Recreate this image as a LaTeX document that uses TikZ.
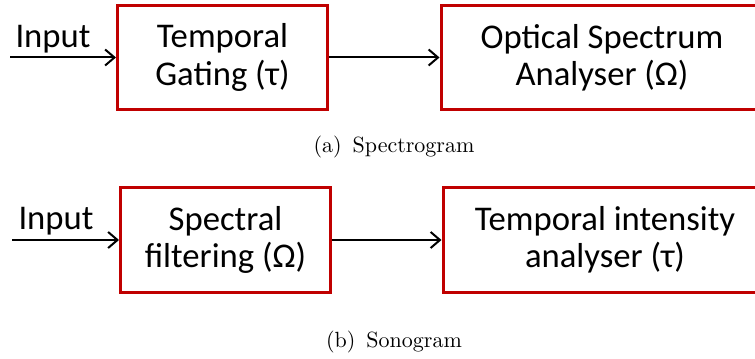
\documentclass[tikz,border=0pt]{standalone}
\usepackage{fontspec}
\newfontfamily\carlito{Carlito}
\newfontfamily\lmten{lmroman10-regular}[Extension=.otf]
\usetikzlibrary{arrows.meta}
\definecolor{boxred}{RGB}{192,0,0}

\tikzset{
  block/.style={draw=boxred, line width=2.25pt, minimum height=78.5pt, align=center,
    font=\carlito\fontsize{26}{28}\selectfont},
  inlabel/.style={anchor=base, font=\carlito\fontsize{26}{28}\selectfont},
  flow/.style={line width=1.5pt, -{Straight Barb[length=7pt,width=12pt,line width=1.5pt]}},
  subcap/.style={anchor=base, font=\lmten\fontsize{16.5}{19}\selectfont}
}

\begin{document}
\begin{tikzpicture}[x=0.75pt, y=-0.75pt]
    \useasboundingbox (0,0) rectangle (755,359);
    \clip (0,0) rectangle (755,359);
    % Spectrogram
    \node [block, minimum width=157.5pt] (gate) at (222.5,57.5) {Temporal\\Gating (τ)};
    \node [block, minimum width=241.5pt] (osa) at (602,57.5) {Optical Spectrum\\Analyser (Ω)};
    \coordinate (in1) at (10,57.5);
    \node [inlabel] (inlab1) at (53,48) {Input};
    \draw [flow] (in1) -- (gate.west);
    \draw [flow] (gate) -- (osa);
    \node [subcap] (capa) at (394,153) {(a)\enspace Spectrogram};
    % Sonogram
    \node [block, minimum width=157.5pt] (filt) at (225.5,240) {Spectral\\filtering (Ω)};
    \node [block, minimum width=243pt] (tia) at (605,240) {Temporal intensity\\analyser (τ)};
    \coordinate (in2) at (12,240);
    \node [inlabel] (inlab2) at (56,230) {Input};
    \draw [flow] (in2) -- (filt.west);
    \draw [flow] (filt) -- (tia);
    \node [subcap] (capb) at (394,347) {(b)\enspace Sonogram};
\end{tikzpicture}
\end{document}
